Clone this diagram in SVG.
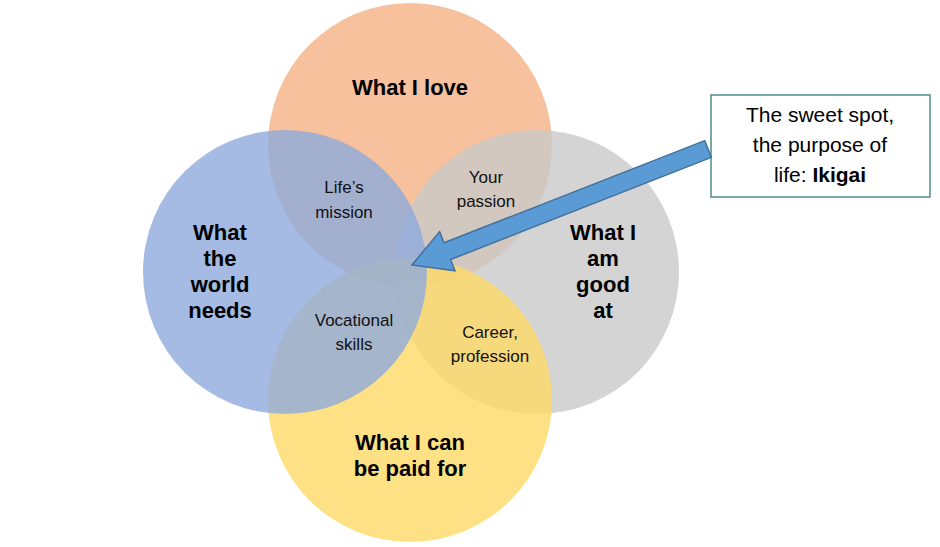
<svg xmlns="http://www.w3.org/2000/svg" width="940" height="547" viewBox="0 0 940 547">
<style>
.c{fill-opacity:0.8;stroke:none}
.b{font-family:"Liberation Sans",Arial,sans-serif;font-weight:bold;font-size:22px;fill:#000;text-anchor:middle}
.s{font-family:"Liberation Sans",Arial,sans-serif;font-size:17px;fill:#111;text-anchor:middle}
.k{font-family:"Liberation Sans",Arial,sans-serif;font-size:21px;fill:#000;text-anchor:middle}
</style>
<rect width="940" height="547" fill="#fff"/>
<g id="love"><circle class="c" cx="410" cy="145" r="142" fill="#F4B183"/></g>
<g id="good"><circle class="c" cx="537" cy="272" r="142" fill="#C9C9C9"/></g>
<g id="paid"><circle class="c" cx="410" cy="400" r="142" fill="#FFD966"/></g>
<g id="world"><circle class="c" cx="285" cy="272" r="142" fill="#8FAADC"/></g>
<g id="labels">
<text class="b" x="410" y="95">What I love</text>
<text class="b" x="220" y="240">What</text><text class="b" x="220" y="266">the</text><text class="b" x="220" y="292">world</text><text class="b" x="220" y="318">needs</text>
<text class="b" x="603" y="240">What I</text><text class="b" x="603" y="266">am</text><text class="b" x="603" y="292">good</text><text class="b" x="603" y="318">at</text>
<text class="b" x="410" y="450">What I can</text><text class="b" x="410" y="476">be paid for</text>
<text class="s" x="344" y="193">Life’s</text><text class="s" x="344" y="218">mission</text>
<text class="s" x="486" y="183">Your</text><text class="s" x="486" y="207">passion</text>
<text class="s" x="354" y="326">Vocational</text><text class="s" x="354" y="350">skills</text>
<text class="s" x="490" y="338">Career,</text><text class="s" x="490" y="362">profession</text>
</g>
<g id="callout">
<rect x="711" y="95" width="219" height="102" fill="#fff" stroke="#4E8C8C" stroke-width="1.5"/>
<text class="k" x="820" y="122">The sweet spot,</text>
<text class="k" x="820" y="152">the purpose of</text>
<text class="k" x="820" y="182">life: <tspan font-weight="bold">Ikigai</tspan></text>
</g>
<g id="connectors">
<path transform="translate(708,149) rotate(158.6)" d="M0,-9 L280,-9 L280,-21 L318,0 L280,21 L280,9 L0,9 Z" fill="#5B9BD5" stroke="#41719C" stroke-width="1.5"/>
</g>
</svg>
